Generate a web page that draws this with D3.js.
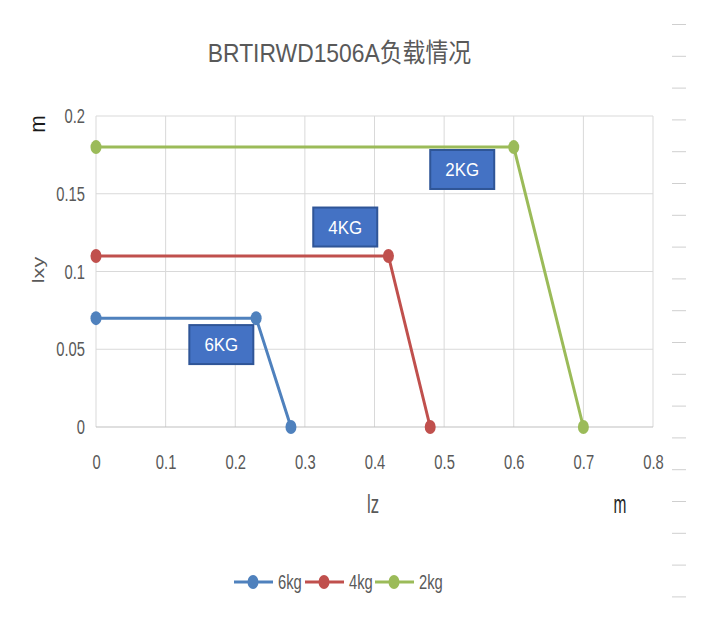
<!DOCTYPE html>
<html>
<head>
<meta charset="utf-8">
<script src="https://cdn.jsdelivr.net/npm/d3@7"></script>
<style>
  body { margin: 0; background: #fff; }
  svg text { font-family: "Liberation Sans", "Noto Sans CJK SC", sans-serif; fill: #595959; }
</style>
</head>
<body>
<div id="chart"></div>
<script>
// données
const seriesNames = ["6kg", "4kg", "2kg"];
const seriesColors = ["#4F81BD", "#C0504D", "#9BBB59"];
const lz6 = [0, 0.23, 0.28], lxy6 = [0.07, 0.07, 0];
const lz4 = [0, 0.42, 0.48], lxy4 = [0.11, 0.11, 0];
const lz2 = [0, 0.6, 0.7],   lxy2 = [0.18, 0.18, 0];
const xTicks = [0, 0.1, 0.2, 0.3, 0.4, 0.5, 0.6, 0.7, 0.8];
const yTicks = [0, 0.05, 0.1, 0.15, 0.2];
// étiquettes (centre en unités du graphe)
const noteLabels = ["6KG", "4KG", "2KG"];
const noteX = [0.18, 0.358, 0.526];
const noteY = [0.053, 0.1286, 0.1656];

const width = 726, height = 617;
const margin = { top: 116, right: 73, bottom: 190, left: 96 };
const SX = 0.72; // police étroite (type Calibri)

const x = d3.scaleLinear().domain([0, 0.8]).range([margin.left, width - margin.right]);
const y = d3.scaleLinear().domain([0, 0.2]).range([height - margin.bottom, margin.top]);

const svg = d3.select("#chart").append("svg")
    .attr("width", width)
    .attr("height", height);

// texte écrasé horizontalement
function label(px, py, txt, size, sx, sy, rot) {
    return svg.append("text")
        .attr("transform", `translate(${px},${py})` + (rot ? ` rotate(${rot})` : "") + ` scale(${sx},${sy})`)
        .attr("text-anchor", "middle")
        .style("font-size", size + "px")
        .text(txt);
}

// petits tirets à droite
svg.append("g")
    .selectAll("line")
    .data(d3.range(0, 19))
    .join("line")
    .attr("x1", 672).attr("x2", 686)
    .attr("y1", i => 24.5 + i * 31.8).attr("y2", i => 24.5 + i * 31.8)
    .attr("stroke", "#cfcfcf").attr("stroke-width", 1);

// titre
label(339.5, 62, "BRTIRWD1506A负载情况", 26, 0.88, 1);

// grille
svg.append("g")
    .selectAll("line")
    .data(xTicks)
    .join("line")
    .attr("x1", d => x(d)).attr("x2", d => x(d))
    .attr("y1", y(0)).attr("y2", y(0.2))
    .attr("stroke", "#d9d9d9");

svg.append("g")
    .selectAll("line")
    .data(yTicks)
    .join("line")
    .attr("x1", x(0)).attr("x2", x(0.8))
    .attr("y1", d => y(d)).attr("y2", d => y(d))
    .attr("stroke", d => d === 0 ? "#bfbfbf" : "#d9d9d9");

// axes
const gx = svg.append("g")
    .attr("transform", `translate(0,${y(0)})`)
    .call(d3.axisBottom(x).tickValues(xTicks).tickSize(0).tickPadding(27).tickFormat(d3.format("")));
gx.select(".domain").remove();

const gy = svg.append("g")
    .attr("transform", `translate(${x(0)},0)`)
    .call(d3.axisLeft(y).tickValues(yTicks).tickSize(0).tickPadding(11).tickFormat(d3.format("")));
gy.select(".domain").remove();

[gx, gy].forEach(g => g.selectAll("text")
    .style("font-size", "20.5px")
    .attr("fill", "#595959")
    .attr("x", function () { return (+d3.select(this).attr("x") || 0) / SX; })
    .attr("transform", `scale(${SX},1)`));

// titres des axes
label(45, 124, "m", 30, 0.7, 0.75, -90).style("fill", "#1a1a1a");
label(44, 270, "lxy", 24, 0.9, 0.72, -90);
label(373, 513, "lz", 25, 0.67, 1);
label(620, 513, "m", 25, 0.62, 1).style("fill", "#262626");

// séries
const series = [
    { name: seriesNames[0], color: seriesColors[0], pts: lz6.map((v, i) => [v, lxy6[i]]) },
    { name: seriesNames[1], color: seriesColors[1], pts: lz4.map((v, i) => [v, lxy4[i]]) },
    { name: seriesNames[2], color: seriesColors[2], pts: lz2.map((v, i) => [v, lxy2[i]]) }
];

const line = d3.line().x(d => x(d[0])).y(d => y(d[1]));

const serie = svg.append("g")
    .selectAll("g")
    .data(series)
    .join("g");

serie.append("path")
    .attr("fill", "none")
    .attr("stroke", d => d.color)
    .attr("stroke-width", 3)
    .attr("d", d => line(d.pts));

serie.selectAll("ellipse")
    .data(d => d.pts.map(p => ({ p, color: d.color })))
    .join("ellipse")
    .attr("cx", d => x(d.p[0]))
    .attr("cy", d => y(d.p[1]))
    .attr("rx", 5.5).attr("ry", 7)
    .attr("fill", d => d.color);

// étiquettes en boîte
const notes = svg.append("g")
    .selectAll("g")
    .data(noteLabels.map((t, i) => ({ t, x: noteX[i], y: noteY[i] })))
    .join("g")
    .attr("transform", d => `translate(${x(d.x)},${y(d.y)})`);

notes.append("rect")
    .attr("x", -32).attr("y", -19.5)
    .attr("width", 64).attr("height", 39)
    .attr("fill", "#4472C4")
    .attr("stroke", "#2F5597")
    .attr("stroke-width", 2);

notes.append("text")
    .attr("text-anchor", "middle")
    .attr("dy", "0.36em")
    .attr("transform", "scale(0.94,1)")
    .style("font-size", "18px")
    .style("fill", "#fff")
    .text(d => d.t);

// légende
const legendX = [234, 305, 375];
const leg = svg.append("g")
    .selectAll("g")
    .data(series)
    .join("g")
    .attr("transform", (d, i) => `translate(${legendX[i]},582)`);

leg.append("line")
    .attr("x1", 0).attr("x2", 39)
    .attr("stroke", d => d.color).attr("stroke-width", 3);
leg.append("ellipse")
    .attr("cx", 19).attr("rx", 5.5).attr("ry", 7)
    .attr("fill", d => d.color);
leg.append("text")
    .attr("transform", "translate(44,0) scale(" + SX + ",1)")
    .attr("dy", "0.36em")
    .style("font-size", "20.5px")
    .text(d => d.name);
</script>
</body>
</html>
